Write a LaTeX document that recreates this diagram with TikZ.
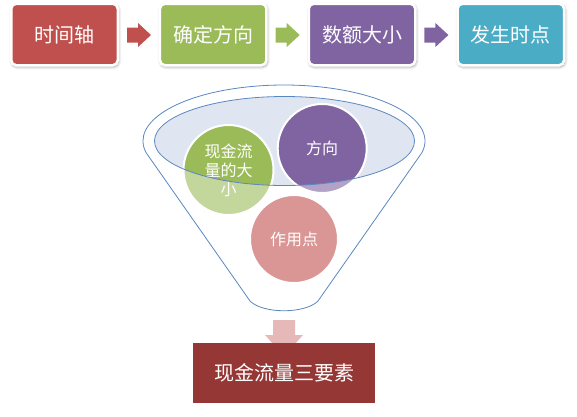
\documentclass[tikz,border=0pt]{standalone}
\usepackage{fontspec}
\newfontfamily\cjk{Noto Sans CJK SC}
\usetikzlibrary{shadows.blur}
\definecolor{cRed}{HTML}{C0504D}
\definecolor{cGreen}{HTML}{9BBB59}
\definecolor{cPurple}{HTML}{8064A2}
\definecolor{cBlue}{HTML}{4BACC6}
\definecolor{cDark}{HTML}{953735}
\definecolor{cPink}{HTML}{E6B9B8}
\definecolor{cLine}{HTML}{5B87C0}
\definecolor{cIn}{HTML}{DFE6F1}
\tikzset{
  topbox/.style={draw=white, line width=2.5pt, rounded corners=5pt,
    minimum width=106.5pt, minimum height=61.5pt, inner sep=0pt,
    text=white, font=\cjk\fontsize{20}{24}\selectfont,
    blur shadow={shadow blur steps=6, shadow xshift=0.8pt, shadow yshift=-1.5pt,
      shadow blur radius=3pt, shadow opacity=40}},
  blob/.style={circle, draw=white, line width=2pt, minimum size=#1, inner sep=0pt},
  blobtext/.style={text=white, align=center, font=\cjk\fontsize{16}{19}\selectfont},
  blockarrow/.style={fill=#1, draw=none},
  outl/.style={draw=cLine, line width=0.8pt},
}
\begin{document}
\begin{tikzpicture}[x=1pt, y=-1pt]
\useasboundingbox (0,0) rectangle (577,416);
% top row
\node[topbox, fill=cRed]    (b1) at (64.5,34.5)  {时间轴};
\node[topbox, fill=cGreen]  (b2) at (213.2,34.5) {确定方向};
\node[topbox, fill=cPurple] (b3) at (362,34.5)   {数额大小};
\node[topbox, fill=cBlue]   (b4) at (510.8,34.5) {发生时点};
\foreach \k/\c in {0/cRed, 1/cGreen, 2/cPurple}{
  \begin{scope}[shift={(148.7*\k,0)}]
    \fill[blockarrow=\c] (127,27.5) -- (138,27.5) -- (138,23) -- (151,35) -- (138,47) -- (138,42.5) -- (127,42.5) -- cycle;
  \end{scope}
}
% funnel body
\fill[white] (284,141) ++(168:141 and 56) arc[start angle=168, end angle=372, x radius=141, y radius=56]
  -- (318,301) .. controls (305,314) and (263,314) .. (250,301) -- cycle;
\fill[cIn] (284.5,141) ellipse[x radius=130, y radius=44.5];
% circles
\node[blob=90pt, fill=cGreen]  (g) at (228.5,170) {};
\node[blob=89pt, fill=cPurple] (p) at (322.2,148.5) {};
\node[blob=88pt, fill=cRed]    (r) at (294,239) {};
% translucent funnel body over circles
\fill[white, opacity=0.4, even odd rule] (284,141) ++(168:141 and 56) arc[start angle=168, end angle=372, x radius=141, y radius=56]
  -- (318,301) .. controls (305,314) and (263,314) .. (250,301) -- cycle
  (284.5,141) ellipse[x radius=130, y radius=44.5];
\node[blobtext] (gt) at (g) {现金流\\量的大\\小};
\node[blobtext] (pt) at (p) {方向};
\node[blobtext] (rt) at (r) {作用点};
% outlines
\draw[outl] (284,141) ++(168:141 and 56) arc[start angle=168, end angle=372, x radius=141, y radius=56]
  -- (318,301) .. controls (305,314) and (263,314) .. (250,301) -- cycle;
\draw[outl] (284.5,141) ellipse[x radius=130, y radius=44.5];
% bottom
\fill[cPink] (273,320) -- (295,320) -- (295,335) -- (303,335) -- (284,356) -- (265,335) -- (273,335) -- cycle;
\node[fill=cDark, minimum width=182pt, minimum height=60pt, inner sep=0pt, text=white,
  font=\cjk\fontsize{20}{24}\selectfont] (m) at (284,372.5) {现金流量三要素};
\end{tikzpicture}
\end{document}
